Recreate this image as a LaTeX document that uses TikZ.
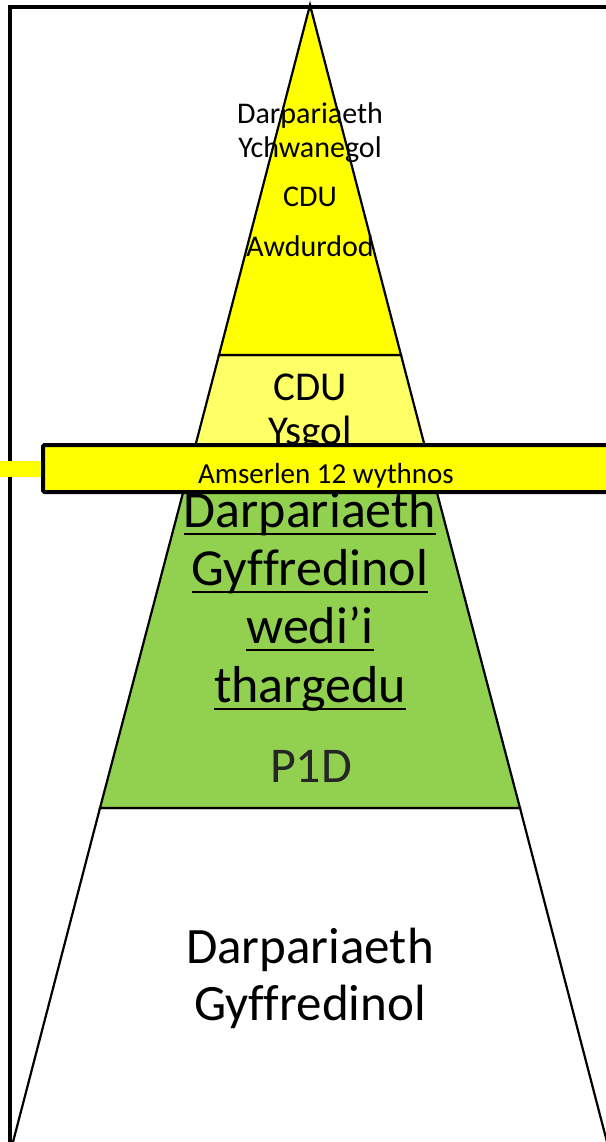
\documentclass[tikz,border=0pt]{standalone}
\usepackage{fontspec}
\setmainfont[Ligatures=NoCommon]{Carlito}
\definecolor{tieryellow}{HTML}{FFFF00}
\definecolor{tierlight}{HTML}{FFFF66}
\definecolor{tiergreen}{HTML}{92D050}
\newcommand\myul[1]{\setbox0\hbox{#1}\rlap{\rule[-8pt]{\wd0}{2.5pt}}\box0}
\tikzset{
  tier/.style={draw=black, line width=2.2pt, line join=miter},
  lbl/.style={anchor=base, inner sep=0pt, text=black},
  smalltxt/.style={lbl, font=\fontsize{30}{34}\selectfont},
  midtxt/.style={lbl, font=\fontsize{41}{46}\selectfont},
  bigtxt/.style={lbl, font=\fontsize{52}{58}\selectfont},
  bartxt/.style={lbl, font=\fontsize{29}{33}\selectfont},
}
\begin{document}
\begin{tikzpicture}[x=1pt, y=-1pt]
\useasboundingbox (0,0) rectangle (605,1142);
% frame
\draw[line width=3.5pt] (10,1150) -- (10,7) -- (615,7);
% bottom tier
\fill[white] (100,808) -- (520,808) -- (607,1142) -- (13,1142) -- cycle;
\draw[tier] (13,1142) -- (100,808) -- (520,808) -- (607,1142);
% green tier
\draw[tier, fill=tiergreen] (189,470) -- (431,470) -- (520,808) -- (100,808) -- cycle;
% light yellow tier
\draw[tier, fill=tierlight] (219,355) -- (401,355) -- (431,470) -- (189,470) -- cycle;
% top tier
\draw[tier, fill=tieryellow] (310,5) -- (401,355) -- (219,355) -- cycle;
% top texts
\node[smalltxt] (t1) at (310,124) {Darpariaeth};
\node[smalltxt] (t2) at (310,158) {Ychwanegol};
\node[smalltxt] (t3) at (310,207) {CDU};
\node[smalltxt] (t4) at (310,256) {Awdurdod};
% second tier texts
\node[midtxt] (s1) at (310,400) {CDU};
\node[midtxt] (s2) at (310,444) {Ysgol};
% green texts
\node[bigtxt] (g1) at (310,527) {\myul{Darpariaeth}};
\node[bigtxt] (g2) at (310,585) {\myul{Gyffredinol}};
\node[bigtxt] (g3) at (310,643) {\myul{wedi’i}};
\node[bigtxt] (g4) at (310,702) {\myul{thargedu}};
\node[bigtxt, font=\fontsize{50}{56}\selectfont, text=black!85] (g5) at (311,782) {P1D};
% bottom texts
\node[bigtxt, font=\fontsize{51}{57}\selectfont] (b1) at (310,963) {Darpariaeth};
\node[bigtxt, font=\fontsize{51}{57}\selectfont] (b2) at (310,1020) {Gyffredinol};
% bar
\draw[line width=4pt, fill=tieryellow, rounded corners=1.5pt] (43,445) rectangle (620,492);
\node[bartxt] (bar) at (326,483) {Amserlen 12 wythnos};
\fill[tieryellow] (0,461) rectangle (41,477);
\end{tikzpicture}
\end{document}
